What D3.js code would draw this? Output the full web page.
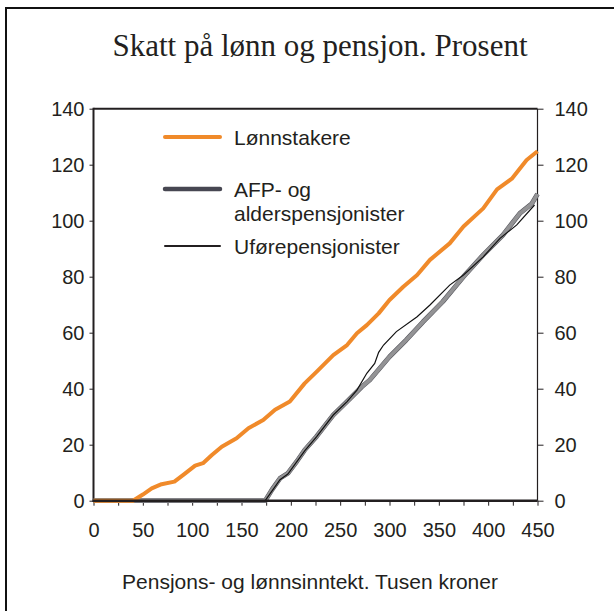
<!DOCTYPE html>
<head>
<meta charset="utf-8">
<title>Skatt på lønn og pensjon</title>
<script src="https://d3js.org/d3.v7.min.js"></script>
<style>
body{
	margin: 0;
	background: #fff;
}
svg text{
	font-family: "Liberation Sans", Arial, sans-serif;
	fill: #231f20;
}
</style>
</head>
<body>
<div id="chart"></div>
<script>

// data (income in thousand NOK, tax)
var lonnX = [0, 40, 50, 59, 69, 82, 92, 103, 111, 120, 130, 145, 157, 172, 184, 199, 214, 226, 243, 257, 267, 277, 289, 300, 314, 328, 341, 361, 375, 395, 409, 424, 439, 450];
var lonnY = [0, 0, 2.2, 4.4, 5.9, 6.8, 9.5, 12.5, 13.4, 16.3, 19.3, 22.3, 25.9, 28.8, 32.5, 35.4, 41.9, 46, 52, 55.6, 59.8, 62.7, 66.9, 71.7, 76.4, 80.6, 86, 91.9, 97.9, 104.4, 111.2, 115, 121.7, 124.8];

var afpX = [0, 174, 181, 189, 197, 206, 214, 226, 243, 257, 272, 280, 300, 317, 334, 354, 375, 395, 415, 432, 444, 450];
var afpY = [0, 0, 4, 8, 9.8, 14, 18.1, 22.9, 30.6, 35.4, 40.7, 43.1, 51.4, 57.4, 63.9, 71.1, 80, 87.8, 94.9, 102.6, 106, 109.5];

var uforeX = [0, 174, 181, 189, 197, 214, 226, 243, 257, 267, 277, 285, 289, 294, 307, 328, 341, 361, 375, 395, 412, 429, 447];
var uforeY = [0, 0, 3.5, 7.5, 9.5, 17.8, 22.8, 30.6, 35.4, 39.5, 45.5, 49, 53, 55.6, 60.4, 65.7, 69.9, 77, 80.6, 87.1, 93.7, 98.5, 105.6];

var xTicks = d3.range(0, 451, 25);
var yTicks = d3.range(0, 141, 20);

var title = "Skatt på lønn og pensjon. Prosent";
var xTitle = "Pensjons- og lønnsinntekt. Tusen kroner";

var width = 614, height = 611;

var svg = d3.select("#chart")
	.append("svg")
	.attr("width", width)
	.attr("height", height);

// outer frame (only top and left edges inside the picture)
svg.append("path")
	.attr("d", "M6,611V8H614")
	.attr("fill", "none")
	.attr("stroke", "#111")
	.attr("stroke-width", 2);

svg.append("text")
	.attr("x", 320)
	.attr("y", 56)
	.attr("text-anchor", "middle")
	.style("font-family", "'Liberation Serif', 'Times New Roman', serif")
	.style("font-size", "31px")
	.text(title);

var x = d3.scaleLinear().domain([0, 450]).range([93.5, 537.5]);
var y = d3.scaleLinear().domain([0, 140]).range([500.7, 108.7]);

// axes
var xAxis = svg.append("g")
	.attr("transform", "translate(0," + y(0) + ")")
	.call(d3.axisBottom(x)
		.tickValues(xTicks)
		.tickSize(5)
		.tickPadding(17)
		.tickFormat(d => d % 50 === 0 ? d : ""));

var yLeft = svg.append("g")
	.attr("transform", "translate(" + x(0) + ",0)")
	.call(d3.axisLeft(y).tickValues(yTicks).tickSize(4).tickPadding(5));

var yRight = svg.append("g")
	.attr("transform", "translate(" + x(450) + ",0)")
	.call(d3.axisRight(y).tickValues(yTicks).tickSize(6).tickPadding(11));

[xAxis, yLeft, yRight].forEach(function(a) {
	a.select(".domain").remove();
	a.selectAll(".tick line").attr("stroke", "#231f20").attr("stroke-width", 1);
	a.selectAll(".tick text")
		.style("font-size", "20px")
		.style("font-family", "'Liberation Sans', Arial, sans-serif")
		.attr("fill", "#231f20");
});

// plot box
svg.append("line").attr("x1", x(0)).attr("x2", x(450)).attr("y1", y(140)).attr("y2", y(140))
	.attr("stroke", "#231f20").attr("stroke-width", 2);
svg.append("line").attr("x1", x(0)).attr("x2", x(0)).attr("y1", y(140) - 1).attr("y2", y(0) + 1)
	.attr("stroke", "#231f20").attr("stroke-width", 2);
svg.append("line").attr("x1", x(450)).attr("x2", x(450)).attr("y1", y(140)).attr("y2", y(0))
	.attr("stroke", "#231f20").attr("stroke-width", 1.2);

var line = d3.line()
	.x(d => x(d[0]))
	.y(d => y(d[1]));

var afp = d3.zip(afpX, afpY);
var ufore = d3.zip(uforeX, uforeY);
var lonn = d3.zip(lonnX, lonnY);

// AFP: grey with a thin dark edge
svg.append("path")
	.datum(afp)
	.attr("d", line)
	.attr("fill", "none")
	.attr("stroke", "#55555c")
	.attr("stroke-width", 4.8)
	.attr("stroke-linejoin", "round");
svg.append("path")
	.datum(afp)
	.attr("d", line)
	.attr("fill", "none")
	.attr("stroke", "#939395")
	.attr("stroke-width", 3.8)
	.attr("stroke-linejoin", "round");

svg.append("path")
	.datum(ufore)
	.attr("d", line)
	.attr("fill", "none")
	.attr("stroke", "#111")
	.attr("stroke-width", 1.2);

svg.append("path")
	.datum(lonn)
	.attr("d", line)
	.attr("fill", "none")
	.attr("stroke", "#f08a2a")
	.attr("stroke-width", 4)
	.attr("stroke-linejoin", "round");

// bottom axis line on top of the series
svg.append("line").attr("x1", x(0) - 1).attr("x2", x(450)).attr("y1", y(0)).attr("y2", y(0))
	.attr("stroke", "#231f20").attr("stroke-width", 2.5);

// legend
var legend = [
	{name: ["Lønnstakere"], color: "#f08a2a", w: 4, y: 137},
	{name: ["AFP- og", "alderspensjonister"], color: "#474752", w: 4.5, y: 189},
	{name: ["Uførepensjonister"], color: "#231f20", w: 2, y: 246}
];

var lg = svg.append("g").selectAll("g")
	.data(legend)
	.join("g");

lg.append("line")
	.attr("x1", 165).attr("x2", 220)
	.attr("y1", d => d.y).attr("y2", d => d.y)
	.attr("stroke", d => d.color)
	.attr("stroke-width", d => d.w)
	.attr("stroke-linecap", "round");

lg.append("text")
	.attr("x", 234)
	.attr("y", d => d.y + 8)
	.style("font-size", "21px")
	.selectAll("tspan")
	.data(d => d.name)
	.join("tspan")
	.attr("x", 234)
	.attr("dy", (d, i) => i === 0 ? 0 : 24)
	.text(d => d);

svg.append("text")
	.attr("x", 310)
	.attr("y", 589)
	.attr("text-anchor", "middle")
	.style("font-size", "21px")
	.text(xTitle);

</script>
</body>
</html>
